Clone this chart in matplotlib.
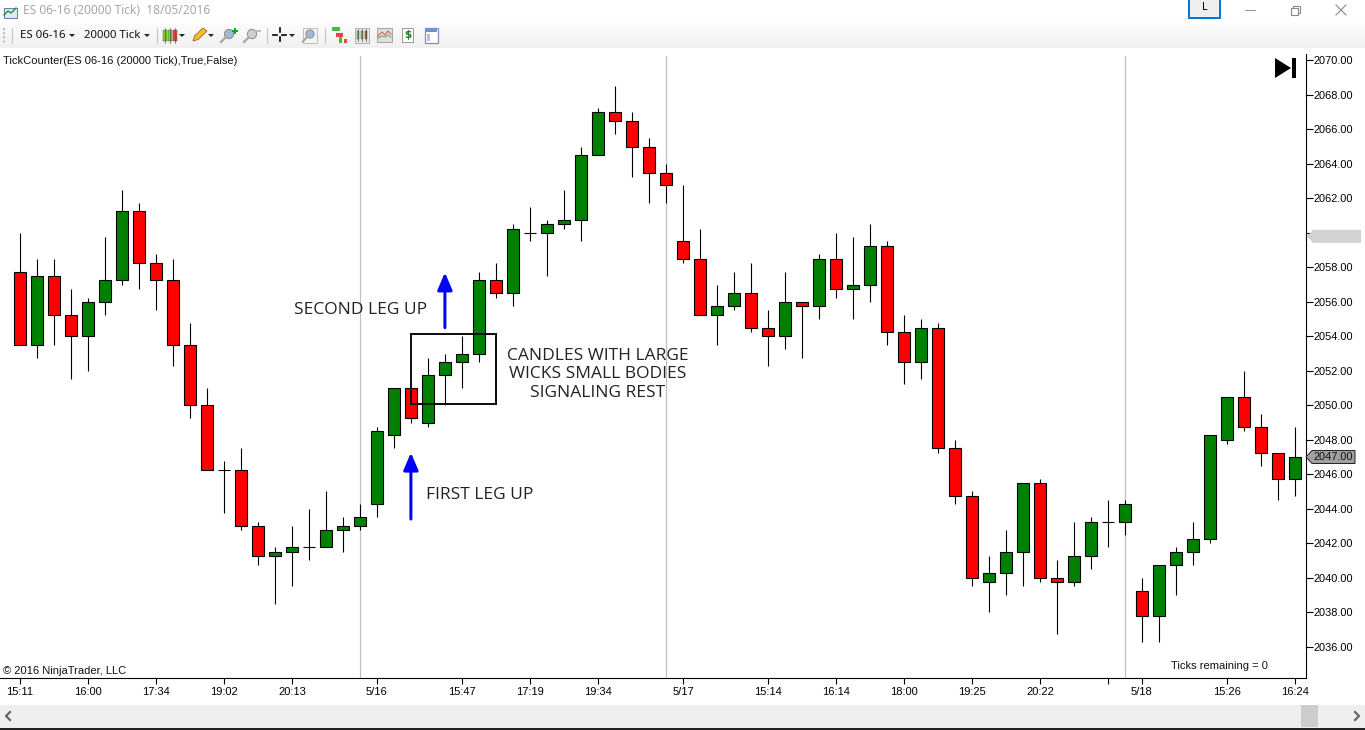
import matplotlib
matplotlib.use('Agg')
import matplotlib.pyplot as plt
import numpy as np
from matplotlib.patches import Rectangle, Polygon, Circle

# ES 06-16, one row per candle
opens = [2057.75, 2053.5, 2057.5, 2055.25, 2054, 2056, 2057.25, 2061.25, 2058.25, 2057.25,
         2053.5, 2050, 2046.25, 2046.25, 2043, 2041.25, 2041.5, 2041.75, 2041.75, 2042.75,
         2043, 2044.25, 2048.25, 2051, 2049, 2051.75, 2052.5, 2053, 2057.25, 2056.5,
         2060, 2060, 2060.5, 2060.75, 2064.5, 2067, 2066.5, 2065, 2063.5, 2059.5,
         2058.5, 2055.25, 2055.75, 2056.5, 2054.5, 2054, 2056, 2055.75, 2058.5, 2056.75,
         2057, 2059.25, 2054.25, 2052.5, 2054.5, 2047.5, 2044.75, 2039.75, 2040.25, 2041.5,
         2045.5, 2040, 2039.75, 2041.25, 2043.25, 2043.25, 2039.25, 2037.75, 2040.75, 2041.5,
         2042.25, 2048, 2050.5, 2048.75, 2047.25, 2045.75]
highs = [2060, 2058.5, 2058.5, 2056.75, 2056.25, 2059.75, 2062.5, 2061.75, 2058.75, 2058.5,
         2054.75, 2051, 2046.75, 2047.5, 2043.25, 2041.75, 2043, 2044, 2045, 2043.5,
         2044.25, 2048.75, 2051, 2051, 2052.75, 2053, 2054, 2057.75, 2058.25, 2060.5,
         2061.5, 2060.75, 2062.5, 2065, 2067.25, 2068.5, 2067, 2065.5, 2064, 2062.75,
         2060.25, 2057, 2057.75, 2058.25, 2055.5, 2057.75, 2056, 2058.75, 2060, 2059.75,
         2060.5, 2059.5, 2055.25, 2055, 2054.75, 2048, 2045, 2041.25, 2042.75, 2045.5,
         2045.75, 2041, 2043.25, 2043.5, 2044.5, 2044.5, 2040, 2040.75, 2041.75, 2043.25,
         2048.25, 2050.5, 2052, 2049.5, 2047.25, 2048.75]
lows = [2053.5, 2052.75, 2053.5, 2051.5, 2052, 2055.25, 2057, 2056.75, 2055.5, 2052.25,
        2049.25, 2046.25, 2043.75, 2042.75, 2040.75, 2038.5, 2039.5, 2041, 2041.75, 2041.5,
        2042.75, 2043.5, 2047.5, 2049, 2048.75, 2050, 2051, 2052.5, 2056.25, 2055.75,
        2059.5, 2057.5, 2060.25, 2059.5, 2064.5, 2065.75, 2063.25, 2061.75, 2061.75, 2058.25,
        2055.25, 2053.5, 2055.5, 2054.25, 2052.25, 2053.25, 2052.75, 2055, 2056.25, 2055,
        2056, 2053.5, 2051.25, 2051.5, 2047.25, 2044.25, 2039.5, 2038, 2039, 2039.5,
        2039.75, 2036.75, 2039.5, 2040.5, 2041.75, 2042.5, 2036.25, 2036.25, 2039, 2040.75,
        2042, 2047.75, 2048.5, 2046.5, 2044.5, 2044.75]
closes = [2053.5, 2057.5, 2055.25, 2054, 2056, 2057.25, 2061.25, 2058.25, 2057.25, 2053.5,
          2050, 2046.25, 2046.25, 2043, 2041.25, 2041.5, 2041.75, 2041.75, 2042.75, 2043,
          2043.5, 2048.5, 2051, 2049.25, 2051.75, 2052.5, 2053, 2057.25, 2056.5, 2060.25,
          2060, 2060.5, 2060.75, 2064.5, 2067, 2066.5, 2065, 2063.5, 2062.75, 2058.5,
          2055.25, 2055.75, 2056.5, 2054.5, 2054, 2056, 2055.75, 2058.5, 2056.75, 2057,
          2059.25, 2054.25, 2052.5, 2054.5, 2047.5, 2044.75, 2040, 2040.25, 2041.5, 2045.5,
          2040, 2039.75, 2041.25, 2043.25, 2043.25, 2044.25, 2037.75, 2040.75, 2041.5, 2042.25,
          2048.25, 2050.5, 2048.75, 2047.25, 2045.75, 2047]

tick_bars = [0, 4, 8, 12, 16, 21, 26, 30, 34, 39, 44, 48, 52, 56, 60, 64, 66, 71, 75]
tick_labels = ['15:11', '16:00', '17:34', '19:02', '20:13', '5/16', '15:47', '17:19', '19:34', '5/17',
               '15:14', '16:14', '18:00', '19:25', '20:22', '', '5/18', '15:26', '16:24']
price_ticks = np.arange(2036, 2071, 2)
session_bars = [20, 38, 65]
last_price = 2047.0
ghost_price = 2059.8

GREEN = '#008000'
RED = '#FF0000'
PX = 72 / 100  # one screen pixel in points

plt.rcParams['font.family'] = ['Liberation Sans', 'DejaVu Sans']

W, H = 1365, 730
fig = plt.figure(figsize=(W / 100, H / 100), dpi=100, facecolor='white')

# price panel sits between the toolbar and the scrollbar
left, right, top, bottom = 0, 1305.5, 54, 678
ax = fig.add_axes([left / W, 1 - bottom / H, (right - left) / W, (bottom - top) / H])
ax.set_xlim(-1.17, 75.62)
ax.set_ylim(2034.18, 2070.376)

for b in session_bars:
    ax.axvline(b, color='#C0C0C0', lw=1.2 * PX, ymax=0.996, zorder=1)

xs = np.arange(len(opens))
o = np.array(opens)
c = np.array(closes)
colors = [GREEN if cl > op else RED for op, cl in zip(opens, closes)]
ax.vlines(xs, lows, highs, color='black', lw=1.1 * PX, zorder=2)
ax.bar(xs, np.abs(c - o), bottom=np.minimum(o, c), width=0.68, color=colors,
       edgecolor='black', linewidth=1.1 * PX, zorder=3)

# annotations on top of the candles
ax.add_patch(Rectangle((23, 2050.05), 5.02, 4.1, fill=False, ec='#111111', lw=2 * PX, zorder=5))
for x0, y0, y1 in [(23, 2043.4, 2047.25), (25, 2054.5, 2057.7)]:
    ax.annotate('', xy=(x0, y1), xytext=(x0, y0), zorder=5,
                arrowprops=dict(arrowstyle='-|>,head_width=0.32,head_length=0.75', color='#0000FF',
                                lw=3 * PX, shrinkA=0, shrinkB=0, mutation_scale=14))

ax.spines['left'].set_visible(False)
ax.spines['top'].set_visible(False)
ax.spines['right'].set_linewidth(1.1 * PX)
ax.spines['bottom'].set_linewidth(1.1 * PX)
ax.yaxis.tick_right()
ax.set_yticks(price_ticks)
ax.set_yticklabels(['' if p == 2060 else f'{p:.2f}' for p in price_ticks], fontsize=7.9)
ax.tick_params(axis='y', length=5.2, width=1.1 * PX, pad=0.8)
ax.set_xticks(tick_bars)
ax.set_xticklabels(tick_labels, fontsize=8)
ax.tick_params(axis='x', length=4.2, width=1.1 * PX, pad=2)

# window furniture, in screen pixels
ui = fig.add_axes([0, 0, 1, 1], facecolor='none')
ui.set_xlim(0, W)
ui.set_ylim(H, 0)
ui.axis('off')

# toolbar and scrollbar
grad = np.linspace(0.985, 0.94, 25).reshape(-1, 1)
ui.imshow(grad, extent=(0, W, 48, 23), cmap='gray', vmin=0, vmax=1, aspect='auto', zorder=0)
ui.set_xlim(0, W)
ui.set_ylim(H, 0)
ui.add_patch(Rectangle((0, 705), W, 23, fc='#EFEFEF', ec='none'))
ui.add_patch(Rectangle((0, 728), W, 2, fc='#222222', ec='none'))
ui.add_patch(Rectangle((1301, 705), 17, 22, fc='#CDCDCD', ec='none'))
ui.plot([10, 6, 10], [712, 716, 720], color='#666666', lw=1.6)
ui.plot([1355, 1359, 1355], [712, 716, 720], color='#666666', lw=1.6)

SEG = ['Noto Sans', 'DejaVu Sans']
ui.text(23, 11, 'ES 06-16 (20000 Tick)  18/05/2016', color='#A6A6A6', fontsize=8.6, family=SEG, va='center')
ui.text(20, 35, 'ES 06-16', fontsize=8.2, family=SEG, va='center', color='#111111')
ui.text(84, 35, '20000 Tick', fontsize=8.2, family=SEG, va='center', color='#111111')

# title bar buttons
ui.add_patch(Rectangle((1188.5, -1), 31, 18.5, fc='#EFEFEF', ec='#0078D7', lw=2 * PX))
ui.text(1204.5, 8, 'L', fontsize=7.9, family=SEG, ha='center', va='center')
ui.plot([1245, 1255], [10, 10], color='#999999', lw=0.8)
ui.add_patch(Rectangle((1290.5, 7.5), 7, 7, fc='white', ec='#8A8A8A', lw=0.8))
ui.add_patch(Rectangle((1293, 5.5), 6.5, 7, fc='none', ec='#8A8A8A', lw=0.8, zorder=0.5))
ui.plot([1336, 1346], [5, 15], color='#8A8A8A', lw=0.8)
ui.plot([1336, 1346], [15, 5], color='#8A8A8A', lw=0.8)

# toolbar separators and dropdown arrows
for sx in [12, 157, 267, 325]:
    ui.plot([sx, sx], [28, 43], color='#C4C4C4', lw=0.8)
ui.plot([4, 4], [28, 43], color='#BBBBBB', lw=1.5, ls=(0, (1, 1)))
for ax_x in [72, 147, 182, 211, 292]:
    ui.add_patch(Polygon([(ax_x - 3, 34), (ax_x + 3, 34), (ax_x, 37)], fc='#222222', ec='none'))

# app icon
ui.add_patch(Rectangle((3.5, 7.5), 13, 10, fc='#DCE9F7', ec='#5A7FA8', lw=0.7))
ui.plot([4, 8, 11, 16], [15, 11, 13, 8], color='#2E8B2E', lw=1)

# candle icons
def candle_icon(x0, y0, cols, w=3.4, gap=5, h=11):
    for k, col in enumerate(cols):
        cx = x0 + k * gap
        ui.plot([cx, cx], [y0 - 2, y0 + h + 2], color='#555555', lw=0.5)
        ui.add_patch(Rectangle((cx - w / 2, y0), w, h, fc=col, ec='#444444', lw=0.3))

candle_icon(165, 29.5, ['#7ED321', '#7ED321', '#E8483A'])
ui.add_patch(Rectangle((355, 28), 14, 15, fc='#E8E8E8', ec='#999999', lw=0.5))
candle_icon(358, 31, ['#7ED321', '#7ED321', '#E8483A'], w=2.8, gap=4, h=8)

# pencil
ui.add_patch(Polygon([(193, 41), (194.5, 36), (203, 28), (207, 31), (198, 39.5)], fc='#F5C02B', ec='#8E6A10', lw=0.6))
# zoom icons
for mx, mc in [(229, '#9DB8D8'), (252, '#CFCFCF')]:
    ui.add_patch(Circle((mx, 34), 4.6, fc=mc, ec='#8A8A8A', lw=0.7))
    ui.plot([mx - 3.5, mx - 8], [37.5, 42], color='#B0A890', lw=1.6)
ui.plot([233, 237], [30.5, 30.5], color='#12A012', lw=1.4)
ui.plot([235, 235], [28.5, 32.5], color='#12A012', lw=1.4)
ui.plot([256, 260], [30.5, 30.5], color='#BDBDBD', lw=1.4)
# crosshair
ui.plot([273, 277], [34.5, 34.5], color='black', lw=1.2)
ui.plot([282, 286], [34.5, 34.5], color='black', lw=1.2)
ui.plot([279.5, 279.5], [28, 32], color='black', lw=1.2)
ui.plot([279.5, 279.5], [37, 41], color='black', lw=1.2)
# zoom box
ui.add_patch(Rectangle((303, 27.5), 14, 15, fc='#F4F4F4', ec='#B5B5B5', lw=0.6))
ui.add_patch(Circle((310, 34), 4.2, fc='#9DB8D8', ec='#8A8A8A', lw=0.6))
ui.plot([306.5, 303], [37.5, 41.5], color='#A89F88', lw=1.4)
# remaining tools
ui.add_patch(Rectangle((332, 27), 8, 3.5, fc='#4DB848', ec='none'))
ui.add_patch(Rectangle((336, 33), 7, 3.5, fc='#E8483A', ec='none'))
ui.add_patch(Rectangle((339, 37), 3, 6, fc='#4DB848', ec='none'))
ui.add_patch(Rectangle((344, 39), 3, 4, fc='#E8483A', ec='none'))
ui.add_patch(Rectangle((377, 28), 15, 14, fc='#DEDEDE', ec='#999999', lw=0.6))
ui.plot([378, 382, 385, 388, 391], [36, 32, 35, 31, 34], color='#D9534F', lw=0.7)
ui.plot([378, 382, 385, 388, 391], [38, 36, 37, 35, 37], color='#4DB848', lw=0.7)
ui.add_patch(Rectangle((402, 28), 11, 14, fc='white', ec='#888888', lw=0.6))
ui.text(407.5, 35, '$', fontsize=7.5, color='#1B7F1B', ha='center', va='center', weight='bold', family=['DejaVu Sans'])
ui.add_patch(Rectangle((425, 27.5), 13, 15, fc='white', ec='#8C86C8', lw=0.9))
ui.add_patch(Rectangle((426, 29), 11, 3, fc='#6E93C8', ec='none'))
ui.add_patch(Rectangle((427, 34), 2.5, 7, fc='#C8B6E6', ec='none'))

# chart texts
ui.text(3, 60.5, 'TickCounter(ES 06-16 (20000 Tick),True,False)', fontsize=8.02, va='center', color='#111111')
ui.text(3, 671, '\u00a9 2016 NinjaTrader, LLC', fontsize=8.02, va='center', color='#111111')
ui.text(1171, 666, 'Ticks remaining = 0', fontsize=8.02, va='center', color='#111111')

NOTE = ['Open Sans', 'DejaVu Sans']
ui.text(294, 310, 'SECOND LEG UP', fontsize=12.5, family=NOTE, va='center', color='#222222')
ui.text(426, 495, 'FIRST LEG UP', fontsize=12.5, family=NOTE, va='center', color='#222222')
for line, ly in zip(['CANDLES WITH LARGE', 'WICKS SMALL BODIES', 'SIGNALING REST'], [356.5, 374.5, 393]):
    ui.text(598, ly, line, fontsize=12.5, family=NOTE, ha='center', va='center', color='#222222')

# price markers on the axis, placed through the price scale
def price_y(p):
    return ui.transData.inverted().transform(ax.transData.transform((0, p)))[1]

g = price_y(ghost_price)
ui.add_patch(Polygon([(1307, g), (1313, g - 6.5), (1361, g - 6.5), (1361, g + 6.5), (1313, g + 6.5)],
                     fc='#D2D2D2', ec='none'))
y_last = price_y(last_price)
ui.add_patch(Polygon([(1306, y_last), (1312, y_last - 6.5), (1355, y_last - 6.5), (1355, y_last + 6.5), (1312, y_last + 6.5)],
                     fc='#A0A0A0', ec='#222222', lw=0.7))
ui.text(1314, y_last, f'{last_price:.2f}', fontsize=7.9, va='center', color='#111111')

# jump to latest bar button
ui.add_patch(Polygon([(1275, 58), (1291, 68), (1275, 78)], fc='black', ec='none'))
ui.add_patch(Rectangle((1292, 58), 4, 20, fc='black', ec='none'))

fig.savefig('out.png', dpi=100)
